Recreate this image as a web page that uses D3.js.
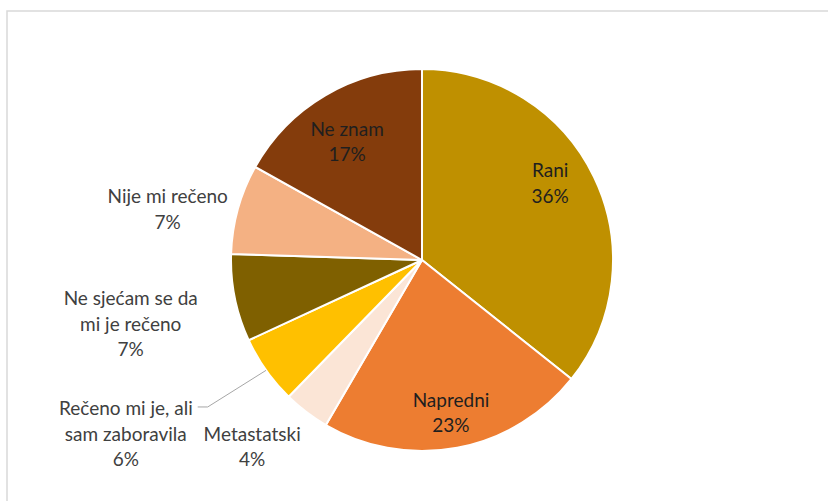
<!DOCTYPE html>
<html>
<head>
<meta charset="utf-8">
<script src="https://cdn.jsdelivr.net/npm/d3@7"></script>
<style>
  body { margin: 0; background: #fff; }
  svg text { font-family: Lato, "Open Sans", sans-serif; font-size: 19px; fill: #404040; }
  svg text.in { fill: #1f1f1f; }
</style>
</head>
<body>
<div id="chart"></div>
<script>
// slice data, clockwise from 12 o'clock
var categories = ["Rani", "Napredni", "Metastatski", "Rečeno mi je, ali sam zaboravila",
    "Ne sjećam se da mi je rečeno", "Nije mi rečeno", "Ne znam"];
var values = [35.7, 22.7, 3.9, 5.8, 7.4, 7.6, 16.9];
var pctLabels = ["36%", "23%", "4%", "6%", "7%", "7%", "17%"];
// label text broken into lines as in the original
var labelLines = [["Rani"], ["Napredni"], ["Metastatski"], ["Rečeno mi je, ali", "sam zaboravila"],
    ["Ne sjećam se da", "mi je rečeno"], ["Nije mi rečeno"], ["Ne znam"]];
var sliceColors = ["#BF9000", "#ED7D31", "#FBE5D6", "#FFC000", "#7F6000", "#F4B183", "#843C0C"];

var width = 828, height = 501;
var cx = 422, cy = 260, radius = 191;
var lineH = 25.5;

var svg = d3.select("#chart").append("svg")
    .attr("width", width)
    .attr("height", height);

// chart area frame
svg.append("rect")
    .attr("x", 7).attr("y", 11)
    .attr("width", width + 10).attr("height", height)
    .attr("fill", "none")
    .attr("stroke", "#d9d9d9")
    .attr("stroke-width", 1.5);

var g = svg.append("g")
    .attr("transform", "translate(" + cx + "," + cy + ")");

var pie = d3.pie().sort(null).value(function (d) { return d; });
var arcs = pie(values);

var arc = d3.arc().innerRadius(0).outerRadius(radius);
var insideArc = d3.arc().innerRadius(radius * 0.78).outerRadius(radius * 0.78);
var outsideArc = d3.arc().innerRadius(radius * 1.3).outerRadius(radius * 1.3);
var edgeArc = d3.arc().innerRadius(radius).outerRadius(radius);

g.selectAll(".slice")
    .data(arcs)
    .enter().append("path")
    .attr("class", "slice")
    .attr("d", arc)
    .attr("fill", function (d, i) { return sliceColors[i]; })
    .attr("stroke", "#fff")
    .attr("stroke-width", 2);

// which labels sit inside the pie, plus small hand nudges like Excel's best fit
var inside = [true, true, false, false, false, false, true];
var nudge = [[-6, -12], [1.5, 6.5], [-19.5, -10.4], [-93.5, 30.8], [-48, 14.5], [-15, 16], [0.5, 10.5]];

var labels = g.selectAll(".label")
    .data(arcs)
    .enter().append("text")
    .attr("class", function (d, i) { return inside[i] ? "label in" : "label"; })
    .attr("text-anchor", "middle")
    .each(function (d, i) {
        var p = inside[i] ? insideArc.centroid(d) : outsideArc.centroid(d);
        var x = p[0] + nudge[i][0], y = p[1] + nudge[i][1];
        var lines = labelLines[i].concat([pctLabels[i]]);
        var top = y - (lines.length - 1) * lineH / 2 + 6.5;
        var t = d3.select(this);
        lines.forEach(function (s, k) {
            t.append("tspan").attr("x", x).attr("y", top + k * lineH).text(s);
        });
    });

// leader line for the yellow slice label
labels.filter(function (d, i) { return i === 3; }).each(function (d) {
    var box = this.getBBox();
    var start = edgeArc.centroid(d);
    var endX = box.x + box.width + 5, endY = box.y + lineH / 2 - 2;
    g.append("polyline")
        .attr("points", [start, [endX + 10, endY], [endX, endY]].map(function (p) { return p.join(","); }).join(" "))
        .attr("fill", "none")
        .attr("stroke", "#a6a6a6")
        .attr("stroke-width", 1);
});
</script>
</body>
</html>
